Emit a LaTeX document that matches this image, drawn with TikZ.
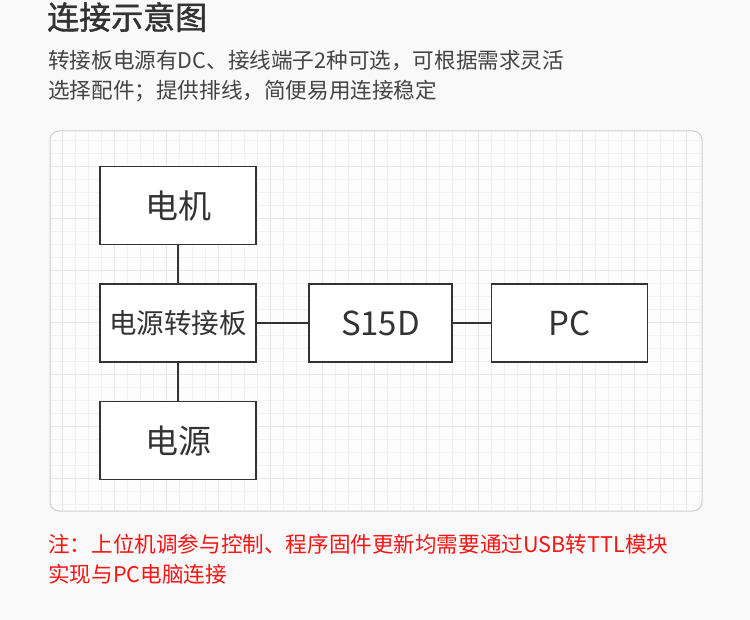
\documentclass[tikz,border=0pt]{standalone}
\usepackage{fontspec}
\setmainfont{Noto Sans CJK SC}
\newfontfamily\headfont{Noto Sans CJK SC}[FakeBold=1.3]
\definecolor{pagebg}{RGB}{249,249,249}
\definecolor{panelbg}{RGB}{253,253,253}
\definecolor{panelrim}{RGB}{206,206,206}
\definecolor{gridlo}{RGB}{242,242,242}
\definecolor{gridhi}{RGB}{232,232,232}
\definecolor{inkdark}{RGB}{51,51,51}
\definecolor{inkgray}{RGB}{68,68,68}
\definecolor{notered}{RGB}{250,20,20}
\tikzset{
  blok/.style={draw=inkdark, line width=1.6pt, fill=white, text=inkdark,
    minimum width=156pt, minimum height=78pt, inner sep=0pt},
  wire/.style={draw=inkdark, line width=1.4pt},
  txtline/.style={anchor=west, inner sep=0pt},
}

\begin{document}
\begin{tikzpicture}[x=1pt,y=-1pt]
	\fill[pagebg] (0,0) rectangle (750,620);
	\useasboundingbox (0,0) rectangle (750,620);
	
	% heading and remarks
	\node[txtline, text=inkdark, font=\headfont\fontsize{32}{36}\selectfont] (title) at (47,17) {连接示意图};
	\node[txtline, text=inkgray, font=\fontsize{21.6}{26}\selectfont] (sub1) at (48,61) {转接板电源有DC、接线端子2种可选，可根据需求灵活};
	\node[txtline, text=inkgray, font=\fontsize{21.6}{26}\selectfont] (sub2) at (48,91) {选择配件；提供排线，简便易用连接稳定};
	
	% panel with grid
	\fill[panelbg, rounded corners=9pt] (50,131) rectangle (702,511);
	\begin{scope}
		\clip[rounded corners=9pt] (50.5,131.5) rectangle (701.5,510.5);
		\foreach \k in {0,...,50}
			\draw[gridlo, line width=0.8pt] ({49+13*\k},131) -- ++(0,380);
		\foreach \k in {0,...,30}
			\draw[gridlo, line width=0.8pt] (50,{127+13*\k}) -- ++(652,0);
		\foreach \k in {0,...,12}
			\draw[gridhi, line width=0.9pt] ({62+52*\k},131) -- ++(0,380);
		\foreach \k in {-1,...,7}
			\draw[gridhi, line width=0.9pt] (50,{166+52*\k}) -- ++(652,0);
	\end{scope}
	\draw[panelrim, line width=1pt, rounded corners=9pt] (50,131) rectangle (702,511);
	
	% blocks
	\node[blok, font=\fontsize{33}{38}\selectfont] (motor) at (178,205.5) {电机};
	\node[blok, font=\fontsize{27.5}{32}\selectfont] (adapter) at (178,323) {电源转接板};
	\node[blok, font=\fontsize{33}{38}\selectfont] (supply) at (178,440.5) {电源};
	\node[blok, minimum width=143pt, font=\fontsize{33}{38}\selectfont] (servo) at (380.5,323) {S15D};
	\node[blok, font=\fontsize{33}{38}\selectfont] (pc) at (569.5,323) {PC};
	
	\draw[wire] (motor) -- (adapter);
	\draw[wire] (adapter) -- (supply);
	\draw[wire] (adapter) -- (servo);
	\draw[wire] (servo) -- (pc);
	
	\node[txtline, text=notered, font=\fontsize{21.6}{26}\selectfont] (note1) at (48,544) {注：上位机调参与控制、程序固件更新均需要通过USB转TTL模块};
	\node[txtline, text=notered, font=\fontsize{21.6}{26}\selectfont] (note2) at (48,574) {实现与PC电脑连接};
\end{tikzpicture}
\end{document}
